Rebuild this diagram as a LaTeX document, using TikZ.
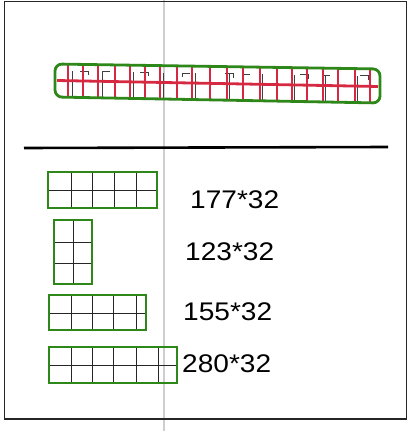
\documentclass[tikz,border=0pt]{standalone}
\usepackage{fontspec}
\setmainfont{Liberation Sans}
\definecolor{boxgreen}{RGB}{45,135,25}
\definecolor{gridred}{RGB}{215,40,65}
\definecolor{scangray}{RGB}{205,205,210}
\begin{document}
\begin{tikzpicture}[x=1pt,y=-1pt,
  frameline/.style={line width=1.8pt, black!85},
  greenbox/.style={draw=boxgreen, line width=2.8pt},
  gridline/.style={black!85, line width=0.9pt},
  redline/.style={gridred, line width=2.8pt},
  sizelabel/.style={anchor=west, inner sep=0pt, font=\fontsize{25.5}{30}\selectfont, xscale=1.1}
]
\useasboundingbox (0,0) rectangle (408,431);
\fill[white] (0,0) rectangle (408,431);
% scan fold line
\draw[scangray, line width=2pt] (164,0) -- (164,431);
% outer frame
\draw[frameline] (4.5,1.5) rectangle (406.5,419);
% separator
\draw[line width=2.6pt, black] (24,148) -- (388,147);

% top long bar
\foreach \x in {72,102,133,163,195,229,262,294,325,357} {
  \pgfmathsetmacro{\yt}{64+(\x-55)*5/325+7}
  \pgfmathsetmacro{\yb}{97+(\x-55)*6/325}
  \draw[black!75, line width=0.8pt] (\x,\yt) -- (\x,\yb);
}
\foreach \x/\d in {80/1,110/-1,140/1,190/-1,225/1,250/-1,300/1,330/-1,360/1} {
  \pgfmathsetmacro{\yt}{64+(\x-55)*5/325+7}
  \draw[black!75, line width=0.8pt] (\x,\yt) -- ++(8*\d,0) -- ++(0,4);
}
\foreach \x in {68,83,98,115,130,145,160,177,192,210,227,243,260,277,292,307,323,338,355,370} {
  \pgfmathsetmacro{\yt}{64+(\x-55)*5/325}
  \pgfmathsetmacro{\yb}{97+(\x-55)*6/325}
  \draw[redline] (\x,\yt) -- (\x,\yb);
}
\draw[redline] (57,80.5) -- (378,86.5);
\draw[greenbox, rounded corners=7pt] (55,64) -- (380,69) -- (380,103) -- (55,97) -- cycle;

% box 1 (5x2)
\foreach \x in {71,92,114,136} \draw[gridline] (\x,172) -- (\x,208);
\draw[gridline] (48,190) -- (157,190);
\draw[greenbox] (48,172) rectangle (157,208);
\node[sizelabel] (t1) at (190,199.5) {177*32};

% box 2 (2x3)
\draw[gridline] (73,220) -- (73,284);
\foreach \y in {242,263} \draw[gridline] (54,\y) -- (92,\y);
\draw[greenbox] (54,220) rectangle (92,284);
\node[sizelabel] (t2) at (185,252) {123*32};

% box 3
\foreach \x in {71,92,113,136} \draw[gridline] (\x,295) -- (\x,330);
\draw[gridline] (49,313) -- (146,313);
\draw[greenbox] (49,295) rectangle (146,330);
\node[sizelabel] (t3) at (183,312) {155*32};

% box 4
\foreach \x in {71,92,113,136,158} \draw[gridline] (\x,347) -- (\x,383);
\draw[gridline] (49,365) -- (177,365);
\draw[greenbox] (49,347) rectangle (177,383);
\node[sizelabel] (t4) at (182,364) {280*32};
\end{tikzpicture}
\end{document}
